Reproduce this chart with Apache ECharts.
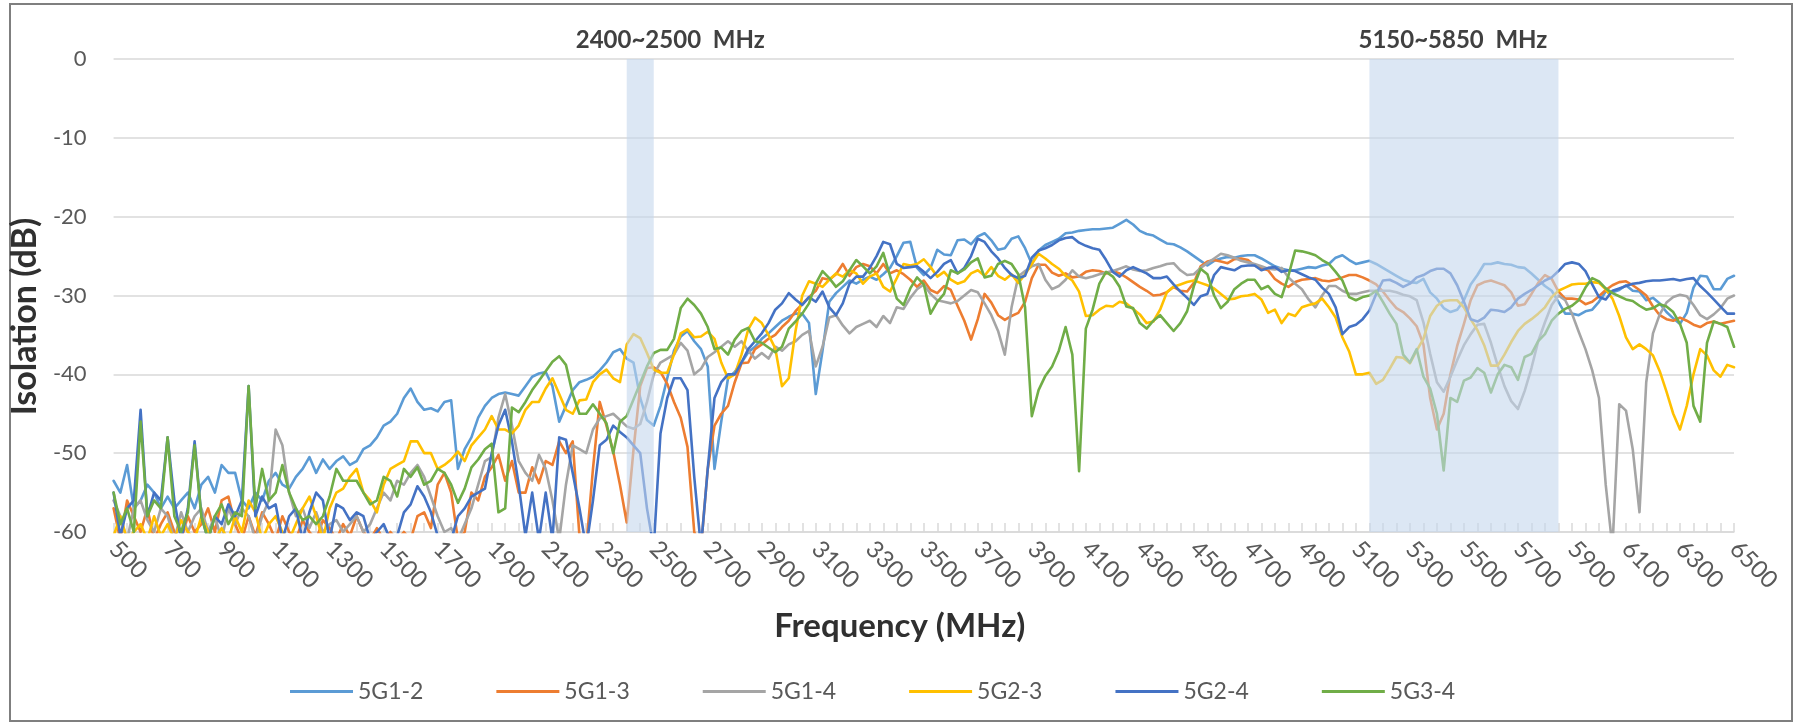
<!DOCTYPE html>
<html>
<head>
<meta charset="utf-8">
<script src="https://cdn.jsdelivr.net/npm/echarts@6/dist/echarts.min.js"></script>
<style>
  html, body { margin: 0; padding: 0; background: #ffffff; }
  #chart { width: 1801px; height: 723px; }
</style>
</head>
<body>
<div id="chart"></div>
<script>
// ---------------- DATA ----------------
// Frequency sampling of the measurement (MHz): 500 .. 6500, every 25 MHz
const FREQ_START = 500;
const FREQ_STEP = 25;
const FREQ_COUNT = 241;

const seriesNames = ['5G1-2', '5G1-3', '5G1-4', '5G2-3', '5G2-4', '5G3-4'];

const xTicks = [500, 700, 900, 1100, 1300, 1500, 1700, 1900, 2100, 2300, 2500, 2700, 2900, 3100, 3300,
  3500, 3700, 3900, 4100, 4300, 4500, 4700, 4900, 5100, 5300, 5500, 5700, 5900, 6100, 6300, 6500];
const yTicks = [0, -10, -20, -30, -40, -50, -60];

const bands = [
  { from: 2400, to: 2500, label: '2400~2500  MHz' },
  { from: 5150, to: 5850, label: '5150~5850  MHz' }
];

// Isolation (dB)
const s5G1_2 = [
  -53.5, -55, -51.5, -57, -56, -54, -55, -57, -55.5, -57,
  -56, -55, -57, -54, -53, -55, -51.5, -52.5, -52.5, -56,
  -57, -55, -56, -53.5, -52.5, -54, -54.5, -53, -52, -50.5,
  -52.5, -50.8, -52, -51, -50.4, -51.5, -51, -49.5, -49, -48,
  -46.5, -46, -45, -43, -41.8, -43.5, -44.5, -44.3, -44.7, -43.5,
  -43.3, -52, -49.5, -48, -45.5, -44, -43, -42.5, -42.3, -42.5,
  -42.7,
  -41.5, -40.3, -39.9, -39.7, -41.5, -46, -44, -42, -41, -40.7,
  -40.3, -39.5, -38.5, -37.2, -36.8, -38, -38.5, -43, -45.8, -46.5,
  -44, -40.5, -37, -35.2, -34.5, -35.8, -36.8, -39, -52, -46,
  -40.5, -39.7, -38.5, -37.2, -36.5, -35.5, -34.8, -34, -33.2, -32.7,
  -32.3, -32.3, -33.5, -42.5, -37, -30.8, -29.7, -28.9, -28.1, -28.5,
  -28, -27.6, -28, -27.3, -26.5, -25,
  -23.3, -23.2, -26.5, -27.4, -26.5, -24.2, -24.8, -24.9, -23, -22.9,
  -23.5, -22.5, -22.1, -23, -24.2, -24, -22.8, -22.5, -24, -26,
  -24.3, -23.6, -23.2, -22.8, -22.1, -22, -21.8, -21.7, -21.6, -21.6,
  -21.5, -21.4, -20.9, -20.4, -21, -21.8, -22.2, -22.4, -22.9, -23.4,
  -23.5, -23.9, -24.4, -25, -25.6, -26.2, -25.6, -25.3, -25.1, -25.2,
  -25, -24.9, -24.9, -25.3, -25.8, -26.3, -26.6, -26.8, -26.8, -26.6,
  -26.4, -26.5, -26.2, -26, -25.2, -24.9, -25.5, -26, -25.8, -25.6,
  -26, -26.5, -27, -27.5, -28, -28.3, -28.4, -27.9, -29.6, -30.4,
  -31.6, -32.1, -31.8, -30.6, -28.6, -27.4, -26, -26, -25.8, -26,
  -26.1, -26.4, -26.5, -27.2, -28, -28.8, -29.4, -30.8, -32.3, -32.3,
  -32.5, -32, -31.8, -30.8, -29.5, -29.6, -29.3, -28.7, -29.4, -29.5,
  -30.6, -30.3, -31, -32.1, -32.9, -33.6, -32.2, -29, -27.5, -27.6,
  -29.2, -29.2, -27.9, -27.5
];

const s5G1_3 = [
  -57, -61, -56, -58, -60, -57, -61, -59, -57.5, -60,
  -61, -58, -60, -59, -57, -60, -56, -55.5, -59, -61,
  -58, -60.5, -57.5, -59, -61, -58, -60, -61, -58.5, -60,
  -61, -58.5, -59.5, -61, -59, -60.5, -58, -60, -61, -59.5,
  -61, -60, -61, -60, -61, -58, -57.5, -59.5, -54, -52.5,
  -55, -61, -60, -55, -56, -53, -51.8, -50.2, -53.5, -51,
  -55,
  -55, -51.8, -53.8, -51, -51.5, -48.5, -50, -48.5, -60.5, -62,
  -52, -43.5, -46.5, -49.8, -54, -58.8, -49.6, -41.5, -39.2, -39.1,
  -39.7, -41.2, -43.5, -45.5, -49.2, -60, -62, -52, -46.5, -45,
  -44, -41, -38.6, -38.5, -36.8, -36.2, -35.5, -35, -34, -33.2,
  -32, -31.1, -30.2, -29.4, -27.8, -28, -27.3, -26, -27.5, -26.4,
  -26, -26.3, -27.2, -26, -27.2, -26.8,
  -27.3, -28, -28.9, -28.1, -29.3, -29.7, -28.8, -29.3, -31.3, -33.2,
  -35.6, -33, -29.8, -30.9, -32.5, -33.1, -32.6, -32.2, -30.8, -27.8,
  -26.1, -26.1, -27.1, -27.5, -27.2, -27.7, -27.6, -27, -26.8, -26.9,
  -27.2, -26.9, -27.2, -27.7, -28.3, -28.9, -29.4, -30, -29.9, -29.6,
  -28.9, -29.4, -29.5, -28.4, -26.3, -25.7, -25.5, -25.7, -25.9, -25.4,
  -25.3, -25.5, -26.2, -26.5, -26.8, -27.9, -28.5, -28.9, -28.3, -28,
  -27.9, -27.8, -28.1, -28.2, -28, -27.7, -27.4, -27.4, -27.7, -28.1,
  -28.6, -29.5, -30.6, -31.6, -32.1, -32.9, -33.9, -36.2, -43, -47,
  -45, -40, -36.4, -33.6, -30.6, -28.7, -28.3, -28.1, -28.4, -28.7,
  -29.6, -31.3, -31.1, -29.8, -28.4, -27.4, -27.9, -29.5, -30.4, -30.4,
  -30.5, -31.1, -30.8, -30.1, -29.3, -28.7, -28.3, -28.2, -28.7, -29.3,
  -30, -31.4, -32.5, -33, -33.2, -32.8, -33.2, -33.7, -34, -33.5,
  -33.3, -33.6, -33.4, -33.2
];

const s5G1_4 = [
  -56, -58, -61, -57, -56, -58.5, -60, -57, -58, -61,
  -57.5, -60, -58, -57, -60, -58, -61, -57, -59, -57,
  -58, -61, -58, -56, -47, -49, -55, -58, -57, -59.5,
  -57.5, -60, -59, -58.5, -60, -59, -58, -60, -59, -57,
  -55, -56, -53.5, -54, -52.5, -51.5, -53, -55.5, -58, -60,
  -59.5, -61, -59, -57, -54, -51, -50.5, -45.5, -42.5, -46.5,
  -51,
  -52.5, -53.5, -50.2, -52, -56, -61, -54, -49, -49.5, -50,
  -47, -45.6, -45.3, -45, -45.8, -46.6, -46.9, -46.3, -43.5, -40,
  -38.5, -38, -37.5, -36, -37, -40, -39.3, -37.8, -37.2, -36.5,
  -35.8, -36.5, -35.8, -37, -38, -37.3, -38, -36.5, -37, -36.2,
  -35.8, -35, -34.5, -39, -36.5, -32.8, -32.5, -33.8, -34.8, -34,
  -33.6, -33.2, -34, -32.6, -33.5, -31.5,
  -31.7, -30.3, -29.2, -28.6, -29.8, -30.6, -30.8, -31, -30.7, -30,
  -29.3, -29.6, -31, -32.5, -34.5, -37.5, -31.5, -27.6, -26.9, -26.3,
  -26, -28, -29.2, -28.8, -28, -26.8, -27.6, -27.8, -27.6, -27.3,
  -27.1, -26.9, -26.6, -26.3, -26.7, -26.9, -26.8, -26.5, -26.3, -26,
  -25.9, -26.8, -27.4, -27.3, -26.5, -25.9, -25.3, -24.7, -24.9, -25.2,
  -25.6, -25.8, -26, -26.3, -26.6, -26.7, -26.5, -27.7, -28.5, -29.2,
  -30.5, -31.5, -30, -28.8, -28.8, -29.4, -29.8, -29.8, -29.6, -29.4,
  -29.4, -29.4, -29.4, -29.6, -29.9, -30.1, -30.6, -33.4, -37.4, -41,
  -42.2, -40.3, -38.2, -36.3, -34.9, -33.7, -33.6, -36, -38.9, -41.5,
  -43.4, -44.4, -42.1, -39.2, -35.8, -33.4, -31.2, -30, -30.6, -32.3,
  -34.6, -36.8, -39.5, -43, -54, -62, -43.8, -44.6, -49.5, -57.5,
  -41, -34.8, -32.4, -30.9, -30.2, -29.9, -30.1, -31.2, -32.5, -33,
  -32.4, -31.6, -30.4, -30
];

const s5G2_3 = [
  -60.5, -58, -61, -60, -59, -61, -58, -60.5, -59, -61,
  -58.5, -60, -61, -58, -60, -61, -59.5, -61, -58, -60,
  -56, -57.5, -61, -59, -58, -60, -61, -59, -57, -55.5,
  -58, -61, -57, -55, -54.5, -53, -52, -55, -56, -57.5,
  -54, -52, -51.5, -51, -48.5, -48.5, -50, -50, -52, -51.5,
  -50.8, -49.8, -51, -49, -48, -47, -45.3, -47, -47, -47.5,
  -46.5,
  -44.5, -43.5, -43.5, -41.8, -40.5, -42.5, -44.5, -45, -43.3, -43.2,
  -41, -40, -39.4, -40.5, -41, -36.2, -34.9, -35.4, -37.3, -39.4,
  -39.8, -39.8, -37.5, -34.8, -34.3, -35.3, -35.2, -34.6, -35.5, -38.5,
  -40.5, -40, -37.5, -34.3, -32.8, -33.5, -35, -36.7, -41.5, -40.5,
  -34.5, -30, -28.2, -28.5, -28.9, -28, -27.2, -27.6, -26.8, -27.2,
  -28.5, -27.6, -27.2, -28.9, -29.5, -27.8,
  -26, -26.2, -26, -25.4, -26.4, -27.6, -27, -28, -28.5, -28.2,
  -27.2, -26.8, -27.5, -26.4, -27.5, -28, -27.3, -28.4, -27.3, -26,
  -24.7, -25.3, -26, -26.6, -27.5, -28.1, -29.5, -32.6, -32.5, -31.8,
  -31.3, -31.4, -30.8, -31, -31.7, -32.4, -33.5, -33.3, -31.8, -29.6,
  -28.9, -28.6, -28.3, -28.1, -28.4, -28.7, -29.1, -29.8, -30.5, -30.4,
  -30.1, -30, -29.8, -30.5, -32.2, -31.8, -33.5, -32.3, -32.6, -31.5,
  -31.2, -31, -30.4, -31.5, -32.8, -35.3, -37.1, -40, -40, -39.8,
  -41.2, -40.7, -39.3, -37.8, -37.9, -38.6, -37, -35.5, -32.6, -31.3,
  -30.7, -30.6, -30.6, -31.5, -33, -34.4, -36.3, -38.9, -38.9, -37.5,
  -35.9, -34.5, -33.6, -33, -32.3, -31.5, -30.2, -29.4, -29, -28.6,
  -28.5, -28.5, -28.3, -28.4, -29.2, -30.4, -32.6, -35.3, -36.8, -36.2,
  -36.8, -37.6, -39.6, -42.2, -45, -47, -44, -40, -36.8, -37.6,
  -39.5, -40.3, -38.8, -39.1
];

const s5G2_4 = [
  -55, -60.5, -57, -56, -44.5, -58, -55, -56, -48, -56,
  -61, -57, -48.5, -58, -61, -58, -59, -56.5, -58, -56,
  -41.5, -58, -55.5, -57, -56.5, -61, -58, -57, -61, -57.5,
  -55, -56, -61, -56.5, -57, -58.5, -57.5, -58, -61, -60,
  -59, -61, -60.5, -57.5, -56.5, -54.2, -55.5, -57.5, -60.5, -62,
  -61, -58, -57, -55.5, -55, -54.5, -50, -46.5, -44.5, -48.5,
  -54,
  -60.5, -55, -61, -55, -61, -48, -48.3, -52.5, -57, -62,
  -56, -49, -48.3, -46.5, -47.3, -48, -49, -50, -57, -62,
  -47.5, -43, -40.5, -40.5, -42, -53, -62, -52, -43, -41,
  -40, -40, -38.5, -36.8, -35.8, -34.8, -33.5, -31.8, -31, -29.7,
  -30.5, -31.2, -30.2, -30.8, -29.5, -31.5, -32.5, -31, -28.5, -27.6,
  -27.6, -26.5, -25, -23.2, -23.5, -26,
  -26.5, -26.4, -26.3, -27, -27.8, -27, -26, -25.5, -27.2, -26.5,
  -25, -22.8, -23.2, -24.4, -25.3, -26.5, -27.4, -27.8, -27.5, -25.2,
  -24.3, -24, -23.6, -23, -22.7, -22.6, -23.3, -23.7, -24, -24.2,
  -25.5, -27, -27.6, -26.8, -26.4, -26.8, -27.2, -27.8, -27.8, -27.6,
  -28.6, -29.5, -30.3, -31.2, -30.1, -29.8, -27.4, -26.4, -26.6, -26.8,
  -26.3, -26.2, -26.2, -26.8, -26.5, -26.4, -27, -26.8, -26.9, -27.3,
  -27.7, -28, -29, -29.8, -31.5, -34.9, -34, -33.7, -33, -31.9,
  -29.8, -28.1, -28, -28.4, -28.9, -28.5, -27.7, -27.4, -26.9, -26.6,
  -26.6, -27.2, -28.7, -30.8, -33, -33.3, -32.8, -31.8, -31.9, -32.1,
  -31.5, -30.4, -29.8, -29.3, -28.7, -28.1, -27.7, -26.9, -26, -25.8,
  -26, -26.9, -28.6, -30.2, -30.5, -29.4, -29.1, -28.8, -28.5, -28.4,
  -28.2, -28.1, -28.1, -28, -27.9, -28.1, -27.9, -27.8, -28.8, -29.6,
  -30.5, -31.4, -32.3, -32.3
];

const s5G3_4 = [
  -55, -59, -57, -60, -46, -58, -56, -57, -48, -58,
  -60, -57.5, -49, -58, -61, -58, -56.5, -59, -57.5, -58,
  -41.5, -57, -52, -56, -55, -51.5, -55, -57, -58.5, -58,
  -59, -58, -55.5, -52, -53.5, -53.5, -53.5, -55, -56.5, -56,
  -53, -53.5, -55.5, -52, -53, -51.8, -54, -53.5, -52, -52.5,
  -54, -56.3, -54.5, -51.8, -50.8, -49.5, -48.8, -57.5, -57, -44.2,
  -44.8,
  -43.5, -42, -40.8, -39.6, -38.4, -37.7, -38.8, -42.5, -45, -45,
  -43.8, -45, -46.2, -50, -46, -45.3, -43.2, -41.1, -39, -37.3,
  -36.9, -36.9, -35.5, -31.6, -30.4, -31.2, -32.3, -34, -36.8, -36.6,
  -37.5, -35.6, -34.5, -34.1, -35.8, -36, -36.6, -37.2, -36.5, -34.2,
  -33.3, -32.3, -31, -28.5, -26.9, -27.8, -28.9, -28.2, -26.8, -25.5,
  -26.3, -27.2, -26.3, -24.6, -27.5, -30.4,
  -31.2, -29.1, -27.7, -28.6, -32.3, -30.8, -29.8, -26.8, -27.2, -26.7,
  -25.8, -25.3, -27.7, -27.5, -26, -25.6, -26, -27.3, -31.5, -45.3,
  -42, -40.2, -39, -37, -34, -37.5, -52.3, -34.2, -31.8, -28.5,
  -27, -27.6, -28.9, -31.4, -31.6, -33.5, -34.2, -33.2, -32.5, -33.5,
  -34.5, -33.5, -32, -28.8, -26.6, -27.3, -30, -31.6, -30.8, -29.2,
  -28.5, -28, -28, -29.2, -28.8, -29.8, -30.2, -27.5, -24.3, -24.4,
  -24.6, -24.9, -25.5, -26, -27, -28.1, -30.2, -30.6, -30.2, -30,
  -29.4, -30.8, -32.3, -33.6, -37.5, -38.5, -36.8, -40.3, -41.8, -45,
  -52.2, -43, -43.5, -40.8, -40.4, -39.2, -39.8, -42.3, -40, -38.8,
  -39.1, -40.7, -37.8, -37.4, -35.8, -34.9, -33.2, -32.3, -31.7, -31.3,
  -30.6, -29, -27.8, -28.2, -29.1, -29.7, -30.1, -30.5, -30.7, -31.3,
  -31.8, -31.6, -31.1, -31.4, -32.1, -33.6, -36, -44, -46, -36,
  -33.3, -33.6, -34, -36.5
];

const seriesValues = [s5G1_2, s5G1_3, s5G1_4, s5G2_3, s5G2_4, s5G3_4];

// ---------------- STYLE ----------------
const colors = ['#5b9bd5', '#ed7d31', '#a5a5a5', '#ffc000', '#4472c4', '#70ad47'];
const FONT = "Lato, 'Open Sans', 'Liberation Sans', sans-serif";
const bandLabelDx = [30, -11];

const freqs = [];
for (let i = 0; i < FREQ_COUNT; i++) freqs.push(FREQ_START + i * FREQ_STEP);

const problems = [];
seriesValues.forEach((arr, k) => {
  if (arr.length !== FREQ_COUNT) problems.push(seriesNames[k] + ':' + arr.length);
});

const series = seriesNames.map((name, k) => ({
  name: name,
  type: 'line',
  data: freqs.map((f, i) => [f, seriesValues[k][i]]),
  showSymbol: false,
  symbol: 'none',
  smooth: false,
  clip: true,
  lineStyle: { color: colors[k], width: 2.6, join: 'round', cap: 'round' },
  itemStyle: { color: colors[k] },
  emphasis: { disabled: true },
  animation: false
}));

series[series.length - 1].markArea = {
  silent: true,
  z: 10,
  itemStyle: { color: 'rgba(196,215,236,0.6)' },
  label: {
    show: true,
    position: 'top',
    distance: 7,
    formatter: '{b}',
    color: '#404040',
    fontFamily: FONT,
    fontSize: 24,
    fontWeight: 'bold'
  },
  data: bands.map((b, i) => [
    { name: b.label, xAxis: b.from, label: { offset: [bandLabelDx[i], 0] } },
    { xAxis: b.to }
  ])
};

const chart = echarts.init(document.getElementById('chart'), null, { renderer: 'canvas' });

const option = {
  backgroundColor: '#ffffff',
  animation: false,
  grid: { left: 107, right: 67, top: 59, bottom: 191, containLabel: false },
  xAxis: {
    type: 'value',
    min: xTicks[0],
    max: xTicks[xTicks.length - 1],
    interval: xTicks[1] - xTicks[0],
    name: 'Frequency (MHz)',
    nameLocation: 'middle',
    nameGap: 78,
    nameTextStyle: { fontFamily: FONT, fontSize: 33, fontWeight: 'bold', color: '#303030', padding: [0, 48, 0, 0] },
    axisLine: { show: true, onZero: false, lineStyle: { color: '#d9d9d9', width: 1.5 } },
    axisTick: { show: true, inside: true, length: 9, lineStyle: { color: '#d9d9d9', width: 1.5 } },
    minorTick: { show: true, splitNumber: 4, length: 9, lineStyle: { color: '#d9d9d9', width: 1.5 } },
    splitLine: { show: false },
    axisLabel: {
      rotate: -45, margin: 13, color: '#595959', fontFamily: FONT, fontSize: 24,
      formatter: function (v) { return String(v); }
    }
  },
  yAxis: {
    type: 'value',
    min: yTicks[yTicks.length - 1],
    max: yTicks[0],
    interval: yTicks[0] - yTicks[1],
    name: 'Isolation (dB)',
    nameLocation: 'middle',
    nameGap: 62,
    nameTextStyle: { fontFamily: FONT, fontSize: 34, fontWeight: 'bold', color: '#303030', padding: [0, 42, 0, 0] },
    axisLine: { show: false },
    axisTick: { show: false },
    splitLine: { show: true, lineStyle: { color: '#d9d9d9', width: 1.5 } },
    axisLabel: { margin: 27, color: '#595959', fontFamily: FONT, fontSize: 22 }
  },
  legend: {
    data: seriesNames,
    left: 285,
    top: 675,
    itemWidth: 63,
    itemHeight: 14,
    itemGap: 73,
    icon: 'path://M0,6 L63,6 L63,9 L0,9 Z',
    textStyle: { fontFamily: FONT, fontSize: 23, color: '#595959' }
  },
  graphic: [
    {
      type: 'rect',
      silent: true,
      shape: { x: 10, y: 4, width: 1782, height: 717 },
      style: { fill: 'none', stroke: '#7f7f7f', lineWidth: 2 }
    }
  ].concat(problems.length ? [{
    type: 'text', left: 300, top: 100,
    style: { text: 'LEN ERR ' + problems.join(' '), fill: 'red', fontSize: 30 }
  }] : []),
  series: series
};

chart.setOption(option);
</script>
</body>
</html>
